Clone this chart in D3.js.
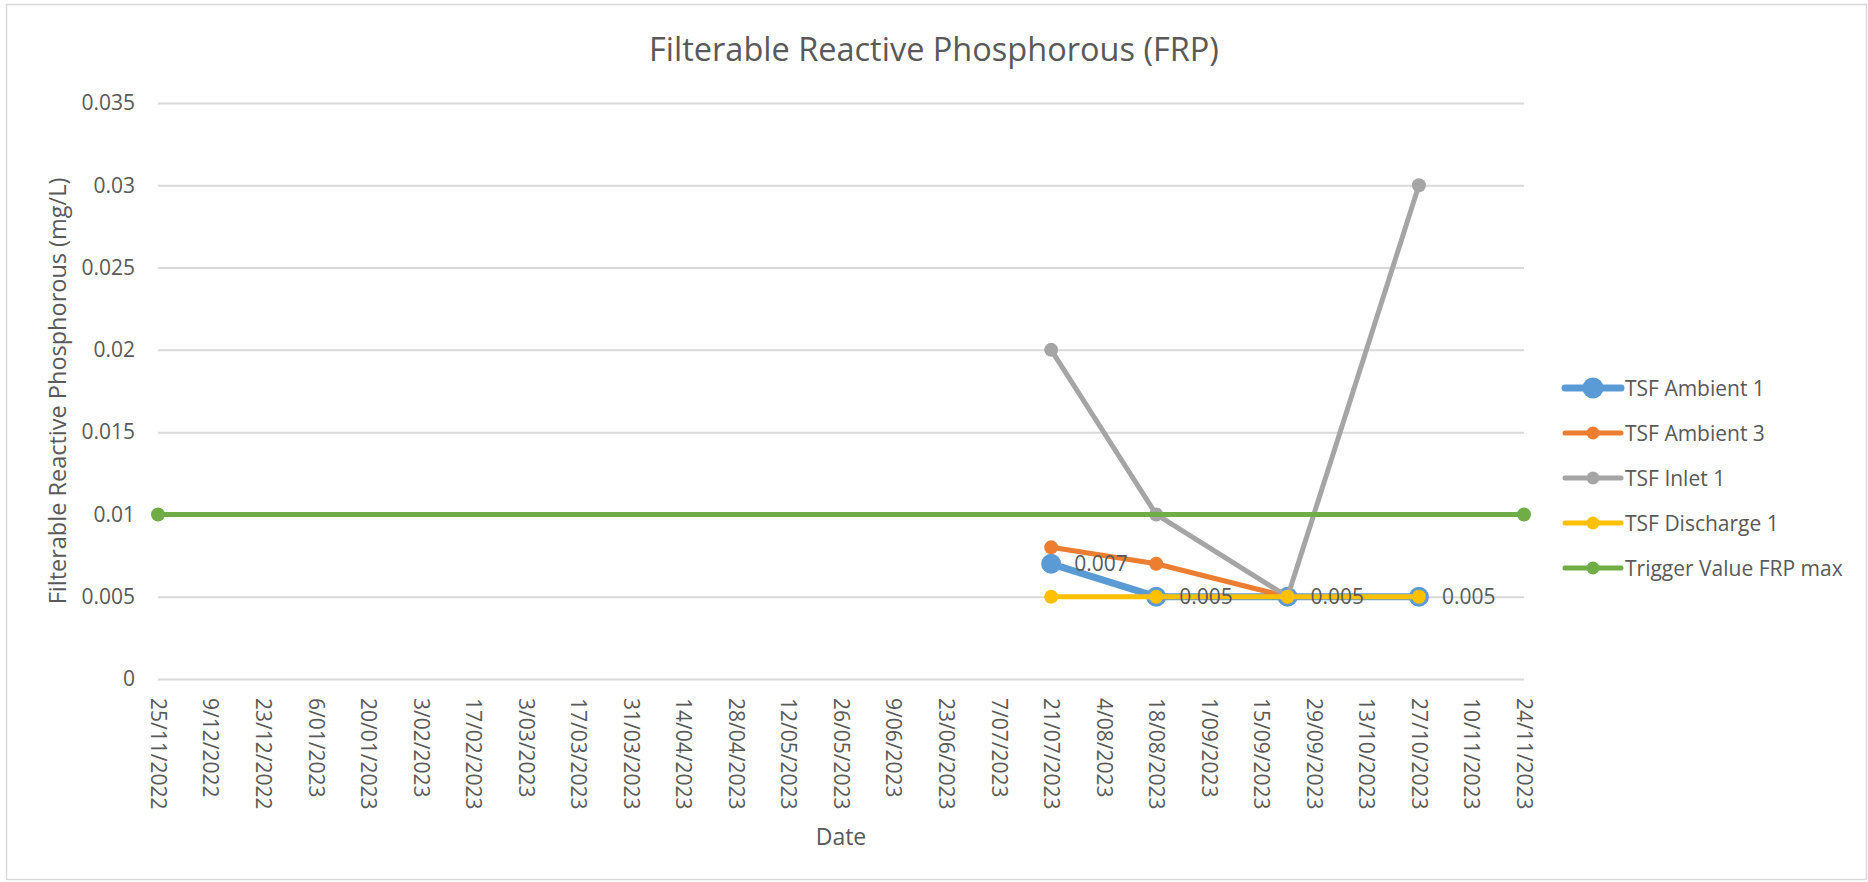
<!DOCTYPE html>
<html>
<head>
<meta charset="utf-8">
<script src="https://cdn.jsdelivr.net/npm/d3@7"></script>
<style>
  body { margin: 0; background: #fff; }
  text { font-family: "Open Sans", sans-serif; fill: #595959; }
</style>
</head>
<body>
<div id="chart"></div>
<script>
// Data

const tickLabels = [
  "25/11/2022", "9/12/2022", "23/12/2022", "6/01/2023", "20/01/2023", "3/02/2023",
  "17/02/2023", "3/03/2023", "17/03/2023", "31/03/2023", "14/04/2023", "28/04/2023",
  "12/05/2023", "26/05/2023", "9/06/2023", "23/06/2023", "7/07/2023", "21/07/2023",
  "4/08/2023", "18/08/2023", "1/09/2023", "15/09/2023", "29/09/2023", "13/10/2023",
  "27/10/2023", "10/11/2023", "24/11/2023"
];
const yTicks = [0, 0.005, 0.01, 0.015, 0.02, 0.025, 0.03, 0.035];

const ambient1Dates = ["21/07/2023", "18/08/2023", "22/09/2023", "27/10/2023"];
const ambient1Values = [0.007, 0.005, 0.005, 0.005];

const ambient3Dates = ["21/07/2023", "18/08/2023", "22/09/2023"];
const ambient3Values = [0.008, 0.007, 0.005];

const inlet1Dates = ["21/07/2023", "18/08/2023", "22/09/2023", "27/10/2023"];
const inlet1Values = [0.02, 0.01, 0.005, 0.03];

const discharge1Dates = ["21/07/2023", "18/08/2023", "22/09/2023", "27/10/2023"];
const discharge1Values = [0.005, 0.005, 0.005, 0.005];

const triggerDates = ["25/11/2022", "24/11/2023"];
const triggerValues = [0.01, 0.01];

const parseDate = d3.timeParse("%d/%m/%Y");

const series = [
  { name: "TSF Ambient 1", color: "#5B9BD5", dates: ambient1Dates, values: ambient1Values, width: 7, r: 10, labels: true },
  { name: "TSF Ambient 3", color: "#ED7D31", dates: ambient3Dates, values: ambient3Values, width: 5, r: 7 },
  { name: "TSF Inlet 1", color: "#A5A5A5", dates: inlet1Dates, values: inlet1Values, width: 5, r: 7 },
  { name: "TSF Discharge 1", color: "#FFC000", dates: discharge1Dates, values: discharge1Values, width: 5, r: 7 },
  { name: "Trigger Value FRP max", color: "#70AD47", dates: triggerDates, values: triggerValues, width: 5, r: 7 },
].map((s) => ({
  ...s,
  points: s.dates.map((d, i) => ({ date: parseDate(d), value: s.values[i] })),
}));

// Chart

const width = 1868;
const height = 882;
const margin = { top: 103, left: 158, right: 344, bottom: 203 };

const svg = d3
  .select("#chart")
  .append("svg")
  .attr("width", width)
  .attr("height", height);

svg
  .append("rect")
  .attr("x", 6.5)
  .attr("y", 4.5)
  .attr("width", width - 8)
  .attr("height", height - 7)
  .attr("fill", "#fff")
  .attr("stroke", "#d9d9d9")
  .attr("stroke-width", 1.5);

const xScale = d3
  .scaleTime()
  .domain([parseDate(tickLabels[0]), parseDate(tickLabels[tickLabels.length - 1])])
  .range([margin.left, width - margin.right]);

const yScale = d3
  .scaleLinear()
  .domain([0, 0.035])
  .range([height - margin.bottom, margin.top]);

// Gridlines + y axis

const yAxis = svg
  .append("g")
  .attr("transform", `translate(${margin.left},0)`)
  .call(
    d3.axisLeft(yScale)
      .tickValues(yTicks)
      .tickFormat((d) => (d === 0 ? "0" : d3.format("")(+d.toFixed(3))))
      .tickSize(-(width - margin.right - margin.left))
      .tickPadding(23)
  );
yAxis.select(".domain").remove();
yAxis.selectAll(".tick line").attr("stroke", "#d9d9d9").attr("stroke-width", 2);
yAxis.selectAll(".tick text").style("font-size", "21px").attr("fill", "#595959");

// x axis

const xAxis = svg
  .append("g")
  .attr("transform", `translate(0,${height - margin.bottom})`)
  .call(
    d3.axisBottom(xScale)
      .tickValues(tickLabels.map(parseDate))
      .tickFormat((d, i) => tickLabels[i])
      .tickSize(0)
  );
xAxis.select(".domain").remove();
xAxis
  .selectAll(".tick text")
  .style("font-size", "21px")
  .attr("fill", "#595959")
  .attr("text-anchor", "start")
  .attr("transform", "rotate(90)")
  .attr("x", 19)
  .attr("y", 0)
  .attr("dy", "0.36em");

// Lines

const line = d3
  .line()
  .x((d) => xScale(d.date))
  .y((d) => yScale(d.value));

series.forEach((s) => {
  const g = svg.append("g");
  g.append("path")
    .datum(s.points)
    .attr("d", line)
    .attr("fill", "none")
    .attr("stroke", s.color)
    .attr("stroke-width", s.width)
    .attr("stroke-linejoin", "round")
    .attr("stroke-linecap", "round");
  g.selectAll("circle")
    .data(s.points)
    .enter()
    .append("circle")
    .attr("cx", (d) => xScale(d.date))
    .attr("cy", (d) => yScale(d.value))
    .attr("r", s.r)
    .attr("fill", s.color);
});

// Data labels for TSF Ambient 1, drawn on top

const labelSeries = series.find((s) => s.labels);
svg
  .append("g")
  .selectAll("text")
  .data(labelSeries.points)
  .enter()
  .append("text")
  .attr("x", (d) => xScale(d.date) + 23)
  .attr("y", (d) => yScale(d.value))
  .attr("dy", "0.36em")
  .style("font-size", "21px")
  .attr("fill", "#404040")
  .text((d) => d.value);

// Titles

svg
  .append("text")
  .attr("x", width / 2)
  .attr("y", 61)
  .attr("text-anchor", "middle")
  .style("font-size", "32.5px")
  .text("Filterable Reactive Phosphorous (FRP)");

svg
  .append("text")
  .attr("x", -(margin.top + height - margin.bottom) / 2)
  .attr("y", 58)
  .attr("transform", "rotate(-90)")
  .attr("text-anchor", "middle")
  .attr("dy", "0.36em")
  .style("font-size", "23.5px")
  .text("Filterable Reactive Phosphorous (mg/L)");

svg
  .append("text")
  .attr("x", (margin.left + width - margin.right) / 2)
  .attr("y", 837)
  .attr("text-anchor", "middle")
  .attr("dy", "0.36em")
  .style("font-size", "23px")
  .text("Date");

// Legend

const legend = svg
  .append("g")
  .selectAll("g")
  .data(series)
  .enter()
  .append("g")
  .attr("transform", (d, i) => `translate(1565,${388 + i * 45})`);

legend
  .append("line")
  .attr("x1", 0)
  .attr("x2", 56)
  .attr("stroke", (d) => d.color)
  .attr("stroke-width", (d) => d.width)
  .attr("stroke-linecap", "round");

legend
  .append("circle")
  .attr("cx", 28)
  .attr("r", (d) => (d.labels ? 10.5 : 6.5))
  .attr("fill", (d) => d.color);

legend
  .append("text")
  .attr("x", 60)
  .attr("dy", "0.36em")
  .style("font-size", "21px")
  .text((d) => d.name);
</script>
</body>
</html>
